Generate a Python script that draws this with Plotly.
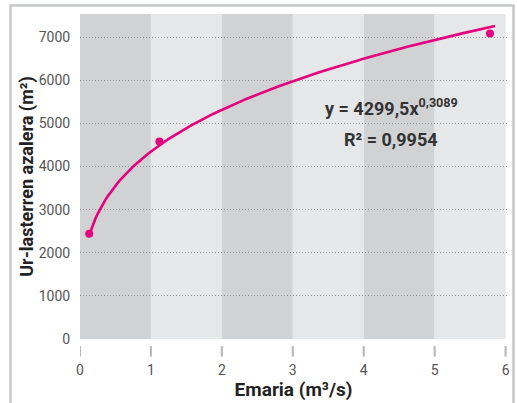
import numpy as np
import plotly.graph_objects as go

# Data
emaria = [0.13, 1.12, 5.78]          # m3/s
azalera = [2440, 4580, 7090]         # m2
# trend curve parameters as drawn in the picture
curve_a = 4350.0
curve_b = 0.29
curve_x_end = 5.85
eq_text = "y = 4299,5x<sup>0,3089</sup>"
r2_text = "R² = 0,9954"
x_ticks = [0, 1, 2, 3, 4, 5, 6]
y_ticks = [0, 1000, 2000, 3000, 4000, 5000, 6000, 7000]
band_edges = [0, 1, 2, 3, 4, 5, 6]

MAGENTA = "#e6007e"
FONT = "Roboto"

xt = np.linspace(min(emaria), curve_x_end, 200)
yt = curve_a * xt ** curve_b

fig = go.Figure()
fig.add_trace(go.Scatter(x=xt, y=yt, mode="lines",
                         line=dict(color=MAGENTA, width=2.6), hoverinfo="skip"))
fig.add_trace(go.Scatter(x=emaria, y=azalera, mode="markers",
                         marker=dict(color=MAGENTA, size=8)))

shapes = []
for i in range(len(band_edges) - 1):
    shapes.append(dict(type="rect", xref="x", yref="paper",
                       x0=band_edges[i], x1=band_edges[i + 1], y0=0, y1=1,
                       fillcolor="#d1d2d4" if i % 2 == 0 else "#e6e7e8",
                       line=dict(width=0), layer="below"))
for v in x_ticks:
    shapes.append(dict(type="line", xref="x", yref="paper",
                       x0=v, x1=v, y0=-0.022, y1=-0.054,
                       line=dict(color="#b9babc", width=2.2)))
# outer frame
shapes.append(dict(type="rect", xref="paper", yref="paper",
                   x0=(10.5 - 80) / 427, x1=(513.5 - 80) / 427,
                   y0=-0.3, y1=1 + 8.5 / 325,
                   line=dict(color="#c6c7c9", width=2.5), fillcolor="rgba(0,0,0,0)",
                   layer="above"))

fig.update_layout(
    width=517, height=403,
    margin=dict(l=80, r=10, t=14, b=64, autoexpand=False),
    paper_bgcolor="white", plot_bgcolor="white",
    showlegend=False,
    shapes=shapes,
    font=dict(family=FONT, color="#444444"),
    annotations=[
        dict(x=4.39, y=5380, xref="x", yref="y",
             text="<b>" + eq_text + "</b>", showarrow=False,
             font=dict(size=18, color="#333333", family=FONT)),
        dict(x=4.39, y=4640, xref="x", yref="y",
             text="<b>" + r2_text + "</b>", showarrow=False,
             font=dict(size=18, color="#333333", family=FONT)),
    ],
)
fig.update_xaxes(range=[0, 6.02], tickvals=x_ticks, ticktext=[str(v) for v in x_ticks],
                 showgrid=False, zeroline=False, showline=False, automargin=False,
                 ticks="outside", ticklen=18, tickcolor="rgba(0,0,0,0)",
                 tickfont=dict(size=14, color="#555555"),
                 title=dict(text="<b>Emaria (m³/s)</b>", standoff=0,
                            font=dict(size=19, color="#222222")))
fig.update_yaxes(range=[0, 7540], tickvals=y_ticks,
                 showgrid=True, gridcolor="#9a9a9a", griddash="1px,2px", gridwidth=1,
                 zeroline=True, zerolinecolor="rgba(0,0,0,0)", automargin=False,
                 showline=False, ticks="outside", ticklen=6, tickcolor="rgba(0,0,0,0)",
                 tickfont=dict(size=14, color="#555555"),
                 title=dict(text="<b>Ur-lasterren azalera (m²)</b>", standoff=0,
                            font=dict(size=18, color="#222222")))

fig.write_html("out.html", config={"displayModeBar": False},
               post_script="document.body.style.margin='0';document.body.style.overflow='hidden';")
